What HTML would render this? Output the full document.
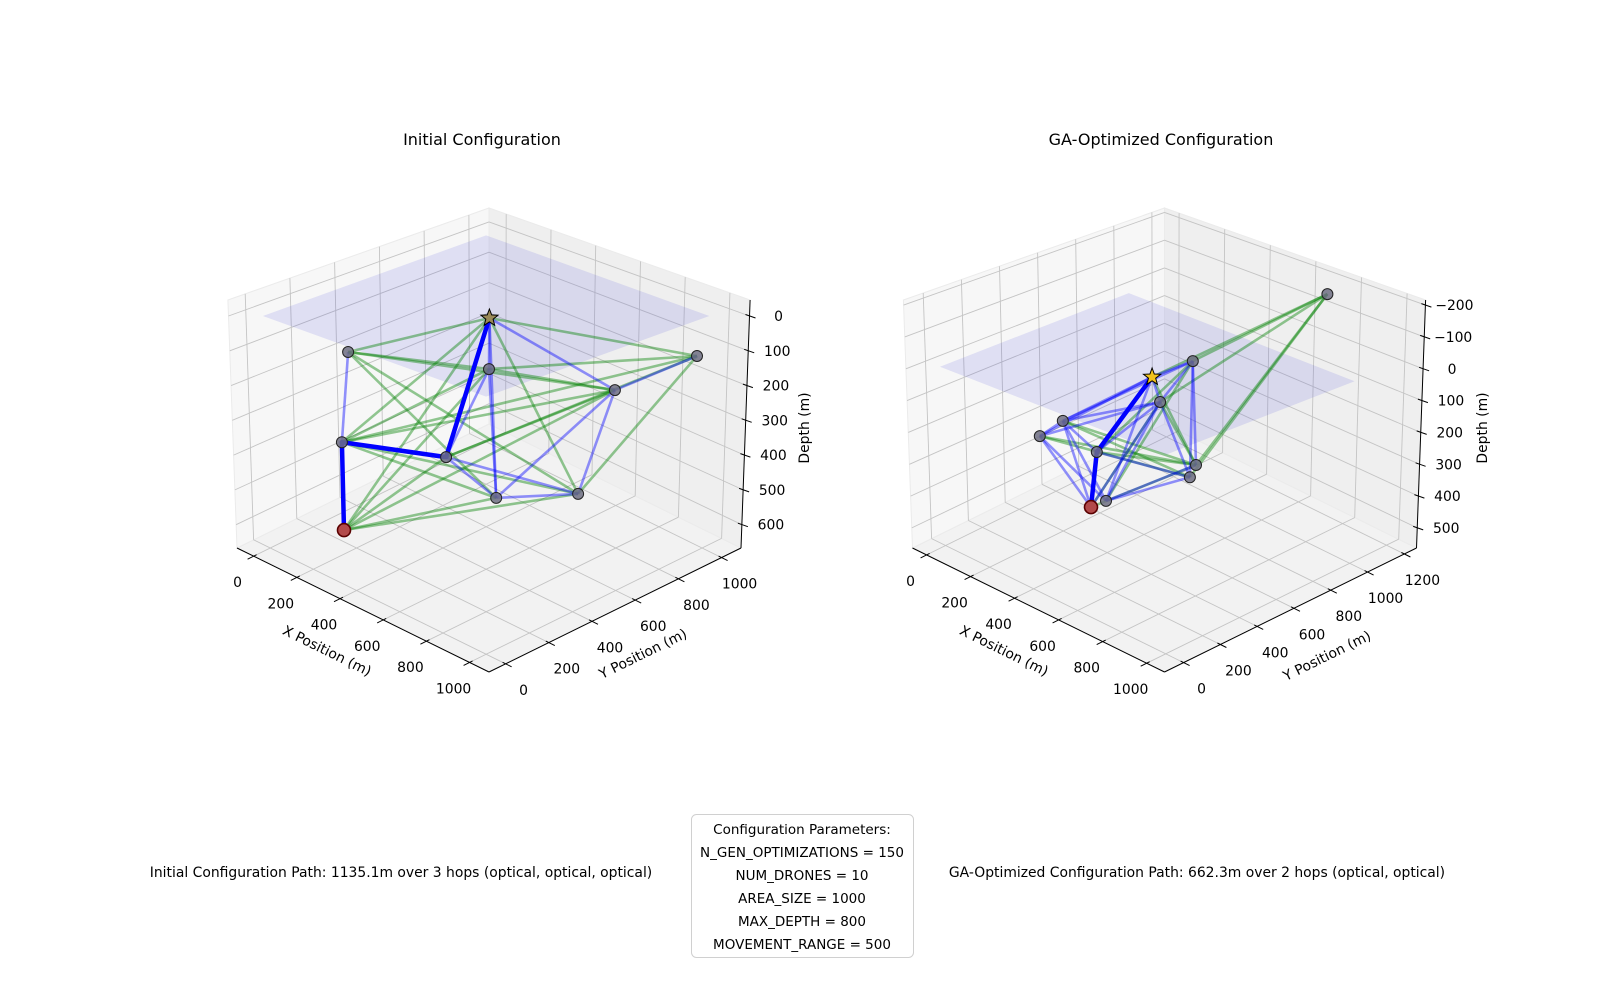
<!DOCTYPE html>
<html><head><meta charset="utf-8"><style>
html,body{margin:0;padding:0;background:#fff;}
svg{display:block;font-family:"DejaVu Sans","Liberation Sans",sans-serif;}
</style></head><body>
<svg id="fig" width="1600" height="1000" viewBox="0 0 1600 1000" xmlns="http://www.w3.org/2000/svg">
<rect width="1600" height="1000" fill="#fff"/>
<text x="482" y="145" font-size="16" text-anchor="middle" fill="#000">Initial Configuration</text>
<text x="1161" y="145" font-size="16" text-anchor="middle" fill="#000">GA-Optimized Configuration</text>
<g id="left"></g>
<g id="right"></g>
<text x="401" y="877" font-size="13.9" text-anchor="middle">Initial Configuration Path: 1135.1m over 3 hops (optical, optical, optical)</text>
<text x="1197" y="877" font-size="13.9" text-anchor="middle">GA-Optimized Configuration Path: 662.3m over 2 hops (optical, optical)</text>
<g>
<rect x="691.5" y="814.5" width="222" height="143" rx="5" fill="#fff" stroke="#d0d0d0" stroke-width="1"/>
<text x="802" y="834" font-size="13.5" text-anchor="middle">Configuration Parameters:</text>
<text x="802" y="857" font-size="13.5" text-anchor="middle">N_GEN_OPTIMIZATIONS = 150</text>
<text x="802" y="880" font-size="13.5" text-anchor="middle">NUM_DRONES = 10</text>
<text x="802" y="903" font-size="13.5" text-anchor="middle">AREA_SIZE = 1000</text>
<text x="802" y="926" font-size="13.5" text-anchor="middle">MAX_DEPTH = 800</text>
<text x="802" y="949" font-size="13.5" text-anchor="middle">MOVEMENT_RANGE = 500</text>
</g>
</svg>
<script>
// ---- Initial configuration data ----
const leftNodes = ["surface-station","drone-1","drone-2","drone-3","drone-4","drone-5","drone-6","drone-7","drone-8","target"];
const leftX = [520, 95, 319, 975, 665, 103, 419, 528, 731, 198];
const leftY = [495, 282, 694, 975, 920, 238, 398, 518, 691, 146];
const leftDepth = [0, 150, 250, 115, 280, 400, 400, 520, 500, 600];
const leftPath = [9, 5, 6, 0];
const leftBlue = [[0,4],[0,2],[0,7],[1,5],[3,4],[4,8],[4,7],[2,6],[2,7],[6,7],[6,8],[7,8]];
const leftGreen = [[0,1],[0,3],[0,5],[0,8],[0,9],[1,2],[1,4],[1,8],[1,7],[3,2],[3,8],[3,6],[3,5],[4,5],[4,6],[4,9],[2,5],[2,9],[5,8],[5,7],[6,9],[7,9],[8,9],[4,2]];
const leftXTicks = [0,200,400,600,800,1000];
const leftYTicks = [0,200,400,600,800,1000];
const leftZTicks = [0,100,200,300,400,500,600];

// ---- GA-optimized configuration data ----
const rightNodes = ["surface-station","drone-a","drone-b","drone-c","drone-d","drone-e","drone-f","drone-g","drone-h","drone-i","target"];
const rightX = [528, 440, 798, 421, 305, 249, 376, 583, 551, 400, 365];
const rightY = [492, 813, 1090, 662, 282, 225, 377, 661, 667, 395, 356];
const rightDepth = [0, 50, -200, 150, 150, 200, 250, 300, 350, 400, 420];
const rightPath = [10, 6, 0];
const rightBlue = [[0,4],[0,5],[0,1],[0,3],[0,9],[1,3],[1,8],[4,5],[4,9],[4,10],[5,10],[5,9],[5,3],[4,3],[3,9],[3,10],[9,8],[9,7],[6,8],[6,3],[1,4],[3,8],[6,4],[1,7]];
const rightGreen = [[2,1],[2,0],[2,3],[2,7],[2,8],[1,6],[3,7],[4,7],[4,8],[5,7],[6,7],[9,1],[10,3],[0,7],[5,8],[10,7]];
const rightXTicks = [0,200,400,600,800,1000];
const rightYTicks = [0,200,400,600,800,1000,1200];
const rightZTicks = [-200,-100,0,100,200,300,400,500];

const NS = "http://www.w3.org/2000/svg";
function mk(parent, tag, attrs, text){
  const e = document.createElementNS(NS, tag);
  for (const k in attrs) e.setAttribute(k, attrs[k]);
  if (text !== undefined) e.textContent = text;
  parent.appendChild(e);
  return e;
}

function makeAxes(cx, xlim, ylim, zlim){
  return {
    cx: cx,
    proj: function(x, y, z){
      const u = (x - xlim[0])/(xlim[1]-xlim[0]);
      const v = (y - ylim[0])/(ylim[1]-ylim[0]);
      const w = (z - zlim[0])/(zlim[1]-zlim[0]);
      return this.projN(u, v, w);
    },
    projN: function(u, v, w){
      const s = u + v, d = u - v;
      const X = cx + 252*(s-1)*(1 + 0.036*(1-w));
      const Y = 548 + 124*d - (1-w)*(248 + 32*d);
      return [X, Y];
    },
    xn: x => (x - xlim[0])/(xlim[1]-xlim[0]),
    yn: y => (y - ylim[0])/(ylim[1]-ylim[0]),
    zn: z => (z - zlim[0])/(zlim[1]-zlim[0])
  };
}

function poly(g, pts, attrs){
  return mk(g, "polygon", Object.assign({points: pts.map(q => q[0].toFixed(1)+","+q[1].toFixed(1)).join(" ")}, attrs));
}
function line(g, a, b, attrs){
  return mk(g, "line", Object.assign({x1:a[0].toFixed(1), y1:a[1].toFixed(1), x2:b[0].toFixed(1), y2:b[1].toFixed(1)}, attrs));
}

function drawPlot(gid, ax, X, Y, Z, names, path, blue, green, xt, yt, zt, starColor, labelPos){
  const g = document.getElementById(gid);
  const P = ax.projN.bind(ax);
  const floor = poly(g, [P(0,0,1),P(1,0,1),P(1,1,1),P(0,1,1)], {fill:"#f2f2f2", stroke:"#ebebeb"});
  
  
  const wallL = poly(g, [P(0,0,1),P(0,1,1),P(0,1,0),P(0,0,0)], {fill:"#f7f7f7", stroke:"#ebebeb"});
  
  
  const wallR = poly(g, [P(0,1,1),P(1,1,1),P(1,1,0),P(0,1,0)], {fill:"#efefef", stroke:"#ebebeb"});
  
  
  const grid = {stroke:"#c4c4c4", "stroke-width":"0.9"};
  xt.forEach(t => { const u = ax.xn(t);
    line(g, P(u,0,1), P(u,1,1), grid);
    line(g, P(u,1,1), P(u,1,0), grid); });
  yt.forEach(t => { const v = ax.yn(t);
    line(g, P(0,v,1), P(1,v,1), grid);
    line(g, P(0,v,1), P(0,v,0), grid); });
  zt.forEach(t => { const w = ax.zn(t);
    line(g, P(0,0,w), P(0,1,w), grid);
    line(g, P(0,1,w), P(1,1,w), grid); });
  const pl = poly(g, [ax.proj(0,0,0),ax.proj(1000,0,0),ax.proj(1000,1000,0),ax.proj(0,1000,0)], {fill:"rgba(60,60,220,0.13)", stroke:"none"});
  
  
  const axl = {stroke:"#000", "stroke-width":"1"};
  const xa = line(g, P(0,0,1), P(1,0,1), axl);
  
  
  const ya = line(g, P(1,0,1), P(1,1,1), axl);
  
  
  const za = line(g, P(1,1,1), P(1,1,0), axl);
  
  
  xt.forEach(t => { const u = ax.xn(t); const p = P(u,0,1);
    line(g, [p[0]+3,p[1]-1.5], [p[0]-6,p[1]+3], axl);
    const lb = mk(g, "text", {x:(p[0]-16).toFixed(1), y:(p[1]+31).toFixed(1), "font-size":"13.9", "text-anchor":"middle"}, String(t));
    
     });
  yt.forEach(t => { const v = ax.yn(t); const p = P(1,v,1);
    line(g, [p[0]-3,p[1]-1.5], [p[0]+6,p[1]+3], axl);
    const lb = mk(g, "text", {x:(p[0]+18).toFixed(1), y:(p[1]+31).toFixed(1), "font-size":"13.9", "text-anchor":"middle"}, String(t));
    
     });
  zt.forEach(t => { const w = ax.zn(t); const p = P(1,1,w);
    line(g, [p[0]-4,p[1]-1.5], [p[0]+6,p[1]+2], axl);
    const lb = mk(g, "text", {x:(p[0]+29).toFixed(1), y:(p[1]+5).toFixed(1), "font-size":"13.9", "text-anchor":"middle"}, String(t).replace("-", "\u2212"));
    
     });
  const xl = mk(g, "text", {x:labelPos.xl[0], y:labelPos.xl[1], "font-size":"13.9", "text-anchor":"middle", transform:`rotate(26.2 ${labelPos.xl[0]} ${labelPos.xl[1]})`}, "X Position (m)");
  
  
  const yl = mk(g, "text", {x:labelPos.yl[0], y:labelPos.yl[1], "font-size":"13.9", "text-anchor":"middle", transform:`rotate(-26.2 ${labelPos.yl[0]} ${labelPos.yl[1]})`}, "Y Position (m)");
  
  
  const zl = mk(g, "text", {x:labelPos.zl[0], y:labelPos.zl[1], "font-size":"13.9", "text-anchor":"middle", transform:`rotate(-90 ${labelPos.zl[0]} ${labelPos.zl[1]})`}, "Depth (m)");
  
  
  const pt = i => ax.proj(X[i], Y[i], Z[i]);
  green.forEach(e => { const l = line(g, pt(e[0]), pt(e[1]), {stroke:"rgba(0,128,0,0.42)", "stroke-width":"2.6"});
    
     });
  blue.forEach(e => { const l = line(g, pt(e[0]), pt(e[1]), {stroke:"rgba(0,0,255,0.42)", "stroke-width":"2.6"});
    
     });
  for (let k = 0; k < path.length-1; k++){
    const l = line(g, pt(path[k]), pt(path[k+1]), {stroke:"#0000ff", "stroke-width":"4.5", "stroke-linecap":"round"});
    
    
  }
  const last = names.length-1;
  names.forEach((n, i) => {
    const p = pt(i);
    if (i === 0){
      const R = 9, r = 3.8; let pts = [];
      for (let k = 0; k < 10; k++){ const a = -Math.PI/2 + k*Math.PI/5; const rr = k%2 ? r : R;
        pts.push([p[0]+rr*Math.cos(a), p[1]+rr*Math.sin(a)]); }
      const s = poly(g, pts, {fill:starColor, stroke:"#000", "stroke-width":"1"});
      
      
    } else if (i === last){
      const c = mk(g, "circle", {cx:p[0].toFixed(1), cy:p[1].toFixed(1), r:"6.5", fill:"#b24a4a", stroke:"#5a0000", "stroke-width":"1.6"});
      
      
    } else {
      const c = mk(g, "circle", {cx:p[0].toFixed(1), cy:p[1].toFixed(1), r:"5.5", fill:"rgba(110,110,130,0.85)", stroke:"#222", "stroke-width":"1"});
      
      
    }
  });
}

const axL = makeAxes(489, [-77,1090], [-77,1090], [-46,667]);
const axR = makeAxes(1164.5, [-64,1081], [-104,1266], [-216,563]);
drawPlot("left", axL, leftX, leftY, leftDepth, leftNodes, leftPath, leftBlue, leftGreen, leftXTicks, leftYTicks, leftZTicks, "#9a8a58", {xl:[325,655], yl:[645,658], zl:[809,428]});
drawPlot("right", axR, rightX, rightY, rightDepth, rightNodes, rightPath, rightBlue, rightGreen, rightXTicks, rightYTicks, rightZTicks, "#f2c21b", {xl:[1002,655], yl:[1329,660], zl:[1487,428]});
</script>
</body></html>
